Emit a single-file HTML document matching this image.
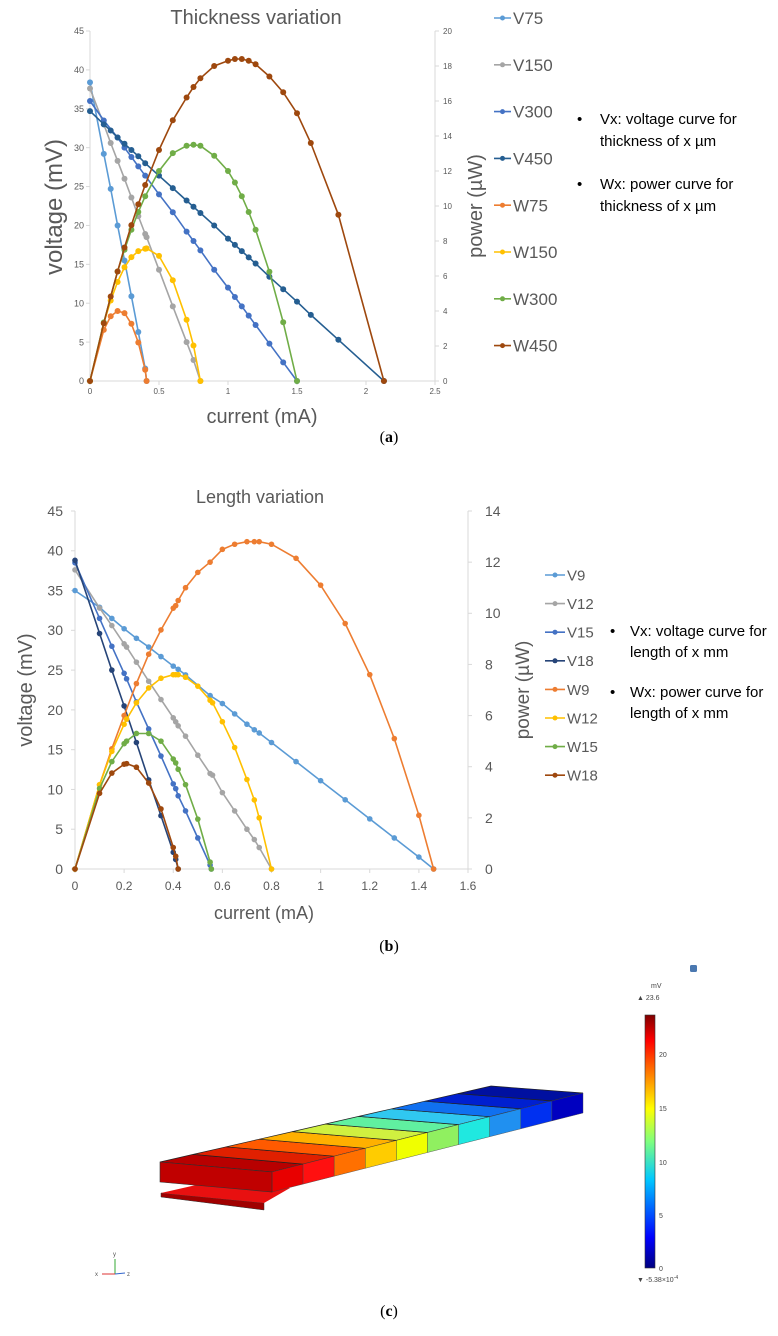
<!DOCTYPE html>
<html><head><meta charset="utf-8">
<style>
html,body{margin:0;padding:0;background:#fff;}
svg{display:block;font-family:"Liberation Sans",sans-serif;}
.cap{font-family:"Liberation Serif",serif;}
</style></head>
<body>
<svg id="fig" width="778" height="1336" viewBox="0 0 778 1336" xmlns="http://www.w3.org/2000/svg">
  <g id="chartA">
    <text x="256" y="24" text-anchor="middle" font-size="20" fill="#595959">Thickness variation</text>
    <text transform="translate(62,207) rotate(-90)" text-anchor="middle" font-size="24" fill="#595959">voltage (mV)</text>
    <text transform="translate(482,206) rotate(-90)" text-anchor="middle" font-size="20" fill="#595959">power (µW)</text>
    <text x="262" y="423" text-anchor="middle" font-size="20" fill="#595959">current (mA)</text>
    <g font-size="15" fill="#000">
      <text x="577" y="124">•</text><text x="600" y="124">Vx: voltage curve for</text>
      <text x="600" y="146">thickness of x µm</text>
      <text x="577" y="189">•</text><text x="600" y="189">Wx: power curve for</text>
      <text x="600" y="211">thickness of x µm</text>
    </g>
  </g>
  <text class="cap" x="389" y="442" text-anchor="middle" font-size="16">(<tspan font-weight="bold">a</tspan>)</text>

  <g id="chartB">
    <text x="260" y="503" text-anchor="middle" font-size="18" fill="#595959">Length variation</text>
    <text transform="translate(32,690) rotate(-90)" text-anchor="middle" font-size="20" fill="#595959">voltage (mV)</text>
    <text transform="translate(529,690) rotate(-90)" text-anchor="middle" font-size="19" fill="#595959">power (µW)</text>
    <text x="264" y="919" text-anchor="middle" font-size="18" fill="#595959">current (mA)</text>
    <g font-size="15" fill="#000">
      <text x="610" y="636">•</text><text x="630" y="636">Vx: voltage curve for</text>
      <text x="630" y="657">length of x mm</text>
      <text x="610" y="697">•</text><text x="630" y="697">Wx: power curve for</text>
      <text x="630" y="718">length of x mm</text>
    </g>
  </g>
  <text class="cap" x="389" y="951" text-anchor="middle" font-size="16">(<tspan font-weight="bold">b</tspan>)</text>

  <g id="partC"></g>
  <g>
    <defs>
      <linearGradient id="jet" x1="0" y1="1" x2="0" y2="0">
        <stop offset="0" stop-color="#00007f"/>
        <stop offset="0.12" stop-color="#0000ff"/>
        <stop offset="0.35" stop-color="#00c8ff"/>
        <stop offset="0.5" stop-color="#7fff7f"/>
        <stop offset="0.63" stop-color="#ffff00"/>
        <stop offset="0.8" stop-color="#ff6000"/>
        <stop offset="0.9" stop-color="#ff0000"/>
        <stop offset="1" stop-color="#7f0000"/>
      </linearGradient>
    </defs>
    <rect x="645" y="1015" width="10" height="253" fill="url(#jet)" stroke="#333" stroke-width="0.6"/>
    <g font-size="7" fill="#444">
      <text x="651" y="988">mV</text>
      <text x="637" y="1000">▲ 23.6</text>
      <text x="659" y="1057">20</text>
      <text x="659" y="1111">15</text>
      <text x="659" y="1165">10</text>
      <text x="659" y="1218">5</text>
      <text x="659" y="1271">0</text>
      <text x="637" y="1282">▼ -5.38×10<tspan dy="-3" font-size="5">-4</tspan></text>
    </g>
    <rect x="690" y="965" width="7" height="7" rx="1.5" fill="#4a78b0"/>
  </g>
  <g font-size="6" fill="#555">
    <line x1="115" y1="1274" x2="115" y2="1259" stroke="#3a3" stroke-width="1"/>
    <line x1="115" y1="1274" x2="102" y2="1274" stroke="#d33" stroke-width="1"/>
    <line x1="115" y1="1274" x2="125" y2="1273" stroke="#36c" stroke-width="1"/>
    <text x="113" y="1256">y</text><text x="95" y="1276">x</text><text x="127" y="1276">z</text>
  </g>
  <text class="cap" x="389" y="1316" text-anchor="middle" font-size="16">(<tspan font-weight="bold">c</tspan>)</text>
</svg>

<script>
const aLabels = ["V75","V150","V300","V450","W75","W150","W300","W450"];
const aColors = ["#5b9bd5","#a5a5a5","#4472c4","#255e91","#ed7d31","#ffc000","#70ad47","#9e480e"];
const aXTicks = [0,0.5,1,1.5,2,2.5];
const aXTickLabels = ["0","0.5","1","1.5","2","2.5"];
const aYTicks = [0,5,10,15,20,25,30,35,40,45];
const aY2Ticks = [0,2,4,6,8,10,12,14,16,18,20];
const aI75 = [0,0.1,0.15,0.2,0.25,0.3,0.35,0.4,0.41];
const aV75 = [38.4,29.2,24.7,20,15.5,10.9,6.3,1.6,0];
const aW75 = [0,2.92,3.7,4.0,3.88,3.27,2.2,0.64,0];
const aI150 = [0,0.1,0.15,0.2,0.25,0.3,0.35,0.4,0.41,0.5,0.6,0.7,0.75,0.8];
const aV150 = [37.6,33,30.6,28.3,26,23.6,21.2,18.9,18.5,14.3,9.6,5,2.7,0];
const aW150 = [0,3.3,4.6,5.66,6.5,7.08,7.42,7.56,7.58,7.15,5.76,3.5,2.03,0];
const aI300 = [0,0.1,0.2,0.25,0.3,0.35,0.4,0.5,0.6,0.7,0.75,0.8,0.9,1.0,1.05,1.1,1.15,1.2,1.3,1.4,1.5];
const aV300 = [36,33.5,31.3,30,28.8,27.6,26.4,24,21.7,19.2,18,16.8,14.3,12,10.8,9.6,8.4,7.2,4.8,2.4,0];
const aW300 = [0,3.35,6.26,7.5,8.64,9.66,10.56,12,13.02,13.44,13.5,13.44,12.87,12,11.34,10.56,9.66,8.64,6.24,3.36,0];
const aI450 = [0,0.1,0.15,0.2,0.25,0.3,0.35,0.4,0.5,0.6,0.7,0.75,0.8,0.9,1.0,1.05,1.1,1.15,1.2,1.3,1.4,1.5,1.6,1.8,2.13];
const aV450 = [34.7,33,32.2,31.3,30.5,29.7,28.9,28,26.4,24.8,23.2,22.4,21.6,20,18.3,17.5,16.7,15.9,15.1,13.4,11.8,10.2,8.5,5.3,0];
const aW450 = [0,3.3,4.83,6.26,7.63,8.91,10.1,11.2,13.2,14.9,16.2,16.8,17.3,18,18.3,18.4,18.4,18.3,18.1,17.4,16.5,15.3,13.6,9.5,0];

const bLabels = ["V9","V12","V15","V18","W9","W12","W15","W18"];
const bColors = ["#5b9bd5","#a5a5a5","#4472c4","#264478","#ed7d31","#ffc000","#70ad47","#9e480e"];
const bXTicks = [0,0.2,0.4,0.6,0.8,1,1.2,1.4,1.6];
const bXTickLabels = ["0","0.2","0.4","0.6","0.8","1","1.2","1.4","1.6"];
const bYTicks = [0,5,10,15,20,25,30,35,40,45];
const bY2Ticks = [0,2,4,6,8,10,12,14];
const bI9 = [0,0.1,0.15,0.2,0.25,0.3,0.35,0.4,0.42,0.45,0.55,0.6,0.65,0.7,0.73,0.75,0.8,0.9,1.0,1.1,1.2,1.3,1.4,1.46];
const bV9 = [35,32.9,31.5,30.2,29,27.9,26.7,25.5,25.1,24.4,21.8,20.8,19.5,18.2,17.5,17.1,15.9,13.5,11.1,8.7,6.3,3.9,1.5,0];
const bIW9 = [0,0.1,0.15,0.2,0.25,0.3,0.35,0.4,0.41,0.42,0.45,0.5,0.55,0.6,0.65,0.7,0.73,0.75,0.8,0.9,1.0,1.1,1.2,1.3,1.4,1.46];
const bW9 = [0,3.29,4.7,6.0,7.25,8.4,9.35,10.2,10.3,10.5,11.0,11.6,12.0,12.5,12.7,12.8,12.8,12.8,12.7,12.15,11.1,9.6,7.6,5.1,2.1,0];
const bI12 = [0,0.1,0.15,0.2,0.21,0.25,0.3,0.35,0.4,0.41,0.42,0.45,0.5,0.55,0.56,0.6,0.65,0.7,0.73,0.75,0.8];
const bV12 = [37.6,32.8,30.6,28.3,27.9,26,23.6,21.3,19,18.5,18,16.7,14.3,12,11.8,9.6,7.3,5,3.7,2.7,0];
const bW12 = [0,3.3,4.6,5.66,5.86,6.5,7.08,7.46,7.6,7.6,7.6,7.5,7.15,6.6,6.5,5.76,4.75,3.5,2.7,2.0,0];
const bI15 = [0,0.1,0.15,0.2,0.21,0.25,0.3,0.35,0.4,0.41,0.42,0.45,0.5,0.55,0.555];
const bV15 = [38.5,31.5,28,24.6,23.9,21,17.6,14.2,10.7,10.1,9.2,7.3,3.9,0.5,0];
const bW15 = [0,3.15,4.2,4.9,5.0,5.3,5.3,5.0,4.3,4.15,3.9,3.3,1.95,0.27,0];
const bI18 = [0,0.1,0.15,0.2,0.25,0.3,0.35,0.4,0.41,0.42];
const bV18 = [38.8,29.6,25,20.5,15.9,11.2,6.7,2.1,1.2,0];
const bIW18 = [0,0.1,0.15,0.2,0.21,0.25,0.3,0.35,0.4,0.41,0.42];
const bW18 = [0,2.96,3.75,4.1,4.12,3.98,3.36,2.35,0.84,0.5,0];

const NS = "http://www.w3.org/2000/svg";
function mk(tag, parent){ const e=document.createElementNS(NS,tag); parent.appendChild(e); return e; }

function drawChart(root, cfg){
  const X = v => cfg.x0 + (v - cfg.xmin)/(cfg.xmax-cfg.xmin)*(cfg.x1-cfg.x0);
  const Y = v => cfg.y0 - v/cfg.ymax*(cfg.y0-cfg.y1);
  const Y2 = v => cfg.y0 - v/cfg.y2max*(cfg.y0-cfg.y1);
  const ax = mk("g", root);
  
  
  ax.setAttribute("stroke","#d9d9d9"); ax.setAttribute("stroke-width","1");
  const lines = [[cfg.x0,cfg.y1,cfg.x0,cfg.y0],[cfg.x0,cfg.y0,cfg.x1,cfg.y0],[cfg.x1,cfg.y1,cfg.x1,cfg.y0]];
  lines.forEach(l=>{const e=mk("line",ax);e.setAttribute("x1",l[0]);e.setAttribute("y1",l[1]);e.setAttribute("x2",l[2]);e.setAttribute("y2",l[3]);});
  cfg.yTicks.forEach(t=>{
    const l=mk("line",ax); l.setAttribute("x1",cfg.x0-4); l.setAttribute("x2",cfg.x0); l.setAttribute("y1",Y(t)); l.setAttribute("y2",Y(t));
    const tx=mk("text",root);
    
    
    tx.setAttribute("x",cfg.x0-cfg.ylabOff); tx.setAttribute("y",Y(t)+cfg.yFont*0.35); tx.setAttribute("text-anchor","end");
    tx.setAttribute("font-size",cfg.yFont); tx.setAttribute("fill","#595959"); tx.textContent=t;
  });
  cfg.y2Ticks.forEach(t=>{
    const l=mk("line",ax); l.setAttribute("x1",cfg.x1); l.setAttribute("x2",cfg.x1+4); l.setAttribute("y1",Y2(t)); l.setAttribute("y2",Y2(t));
    const tx=mk("text",root);
    
    
    tx.setAttribute("x",cfg.x1+cfg.y2labOff); tx.setAttribute("y",Y2(t)+cfg.y2Font*0.35);
    tx.setAttribute("font-size",cfg.y2Font); tx.setAttribute("fill","#595959"); tx.textContent=t;
  });
  cfg.xTicks.forEach((t,i)=>{
    const l=mk("line",ax); l.setAttribute("x1",X(t)); l.setAttribute("x2",X(t)); l.setAttribute("y1",cfg.y0); l.setAttribute("y2",cfg.y0+4);
    const tx=mk("text",root);
    
    
    tx.setAttribute("x",X(t)); tx.setAttribute("y",cfg.y0+cfg.xlabOff); tx.setAttribute("text-anchor","middle");
    tx.setAttribute("font-size",cfg.xFont); tx.setAttribute("fill","#595959"); tx.textContent=cfg.xTickLabels[i];
  });
  cfg.series.forEach((s)=>{
    const g=mk("g",root);
    
    
    const ys = s.axis===2 ? Y2 : Y;
    const pts = s.xs.map((x,i)=>X(x).toFixed(1)+","+ys(s.ys[i]).toFixed(1)).join(" ");
    const pl=mk("polyline",g);
    
    
    pl.setAttribute("points",pts); pl.setAttribute("fill","none"); pl.setAttribute("stroke",s.color); pl.setAttribute("stroke-width","1.6");
    s.xs.forEach((x,i)=>{
      const c=mk("circle",g);
      
      
      c.setAttribute("cx",X(x)); c.setAttribute("cy",ys(s.ys[i])); c.setAttribute("r",cfg.r); c.setAttribute("fill",s.color);
    });
  });
  cfg.legendLabels.forEach((lab,i)=>{
    const g=mk("g",root);
    
    
    const y = cfg.legY + i*cfg.legDy;
    const l=mk("line",g); l.setAttribute("x1",cfg.legX); l.setAttribute("x2",cfg.legX+cfg.legW); l.setAttribute("y1",y); l.setAttribute("y2",y);
    l.setAttribute("stroke",cfg.legendColors[i]); l.setAttribute("stroke-width","1.6");
    const c=mk("circle",g); c.setAttribute("cx",cfg.legX+cfg.legW/2); c.setAttribute("cy",y); c.setAttribute("r",2.5); c.setAttribute("fill",cfg.legendColors[i]);
    const t=mk("text",g); t.setAttribute("x",cfg.legX+cfg.legW+2); t.setAttribute("y",y+cfg.legFont*0.36);
    t.setAttribute("font-size",cfg.legFont); t.setAttribute("fill","#595959"); t.textContent=lab;
  });
}

drawChart(document.getElementById("chartA"), {
  x0:90, x1:435, xmin:0, xmax:2.5, y0:381, y1:31, ymax:45, y2max:20, r:3,
  yTicks:aYTicks, y2Ticks:aY2Ticks, xTicks:aXTicks, xTickLabels:aXTickLabels,
  yFont:9, y2Font:8, xFont:8, ylabOff:6, y2labOff:8, xlabOff:13,
  legendLabels:aLabels, legendColors:aColors, legX:494, legW:17, legY:18, legDy:46.8, legFont:17,
  series:[
    {name:"V75",xs:aI75,ys:aV75,color:aColors[0],axis:1},
    {name:"V150",xs:aI150,ys:aV150,color:aColors[1],axis:1},
    {name:"V300",xs:aI300,ys:aV300,color:aColors[2],axis:1},
    {name:"V450",xs:aI450,ys:aV450,color:aColors[3],axis:1},
    {name:"W75",xs:aI75,ys:aW75,color:aColors[4],axis:2},
    {name:"W150",xs:aI150,ys:aW150,color:aColors[5],axis:2},
    {name:"W300",xs:aI300,ys:aW300,color:aColors[6],axis:2},
    {name:"W450",xs:aI450,ys:aW450,color:aColors[7],axis:2}
  ]
});

drawChart(document.getElementById("chartB"), {
  x0:75, x1:468, xmin:0, xmax:1.6, y0:869, y1:511, ymax:45, y2max:14, r:2.8,
  yTicks:bYTicks, y2Ticks:bY2Ticks, xTicks:bXTicks, xTickLabels:bXTickLabels,
  yFont:14, y2Font:14, xFont:12, ylabOff:12, y2labOff:17, xlabOff:21,
  legendLabels:bLabels, legendColors:bColors, legX:545, legW:20, legY:575, legDy:28.6, legFont:15,
  series:[
    {name:"V9",xs:bI9,ys:bV9,color:bColors[0],axis:1},
    {name:"V12",xs:bI12,ys:bV12,color:bColors[1],axis:1},
    {name:"V15",xs:bI15,ys:bV15,color:bColors[2],axis:1},
    {name:"V18",xs:bI18,ys:bV18,color:bColors[3],axis:1},
    {name:"W9",xs:bIW9,ys:bW9,color:bColors[4],axis:2},
    {name:"W12",xs:bI12,ys:bW12,color:bColors[5],axis:2},
    {name:"W15",xs:bI15,ys:bW15,color:bColors[6],axis:2},
    {name:"W18",xs:bIW18,ys:bW18,color:bColors[7],axis:2}
  ]
});

const slabTopColors = ["#b80000","#e02000","#ff5a00","#ffb000","#d0f040","#60f0a0","#30c8f0","#1070f0","#0020d0","#0010a0"];
const slabSideColors = ["#e80000","#ff1010","#ff7000","#ffcc00","#f0ff00","#90f060","#20e8e0","#2090f0","#0030f0","#0000c0"];
(function(){
  const g = document.getElementById("partC");
  const A=[160,1162], B=[491,1086], C=[583,1093], D=[272,1172];
  const th = 20;
  const lerp=(p,q,t)=>[p[0]+(q[0]-p[0])*t, p[1]+(q[1]-p[1])*t];
  const n = slabTopColors.length;
  const lp=mk("polygon",g);
  
  
  lp.setAttribute("points","161,1193 264,1203 264,1210 161,1197");
  lp.setAttribute("fill","#a00000"); lp.setAttribute("stroke","#333"); lp.setAttribute("stroke-width","0.5");
  const lp2=mk("polygon",g);
  
  
  lp2.setAttribute("points","161,1193 205,1183 290,1188 264,1203");
  lp2.setAttribute("fill","#e81010");
  for(let i=0;i<n;i++){
    const t0=i/n, t1=(i+1)/n;
    const p1=lerp(A,B,t0), p2=lerp(A,B,t1), p3=lerp(D,C,t1), p4=lerp(D,C,t0);
    const top=mk("polygon",g);
    
    
    top.setAttribute("points",[p1,p2,p3,p4].map(p=>p.join(",")).join(" "));
    top.setAttribute("fill",slabTopColors[i]); top.setAttribute("stroke","#222"); top.setAttribute("stroke-width","0.7");
    const side=mk("polygon",g);
    
    
    side.setAttribute("points",[p4,p3,[p3[0],p3[1]+th],[p4[0],p4[1]+th]].map(p=>p.join(",")).join(" "));
    side.setAttribute("fill",slabSideColors[i]); side.setAttribute("stroke","#444"); side.setAttribute("stroke-width","0.4");
  }
  const endf=mk("polygon",g);
  
  
  endf.setAttribute("points",[A,D,[D[0],D[1]+th],[A[0],A[1]+th]].map(p=>p.join(",")).join(" "));
  endf.setAttribute("fill","#c00000"); endf.setAttribute("stroke","#333"); endf.setAttribute("stroke-width","0.6");
})();
</script>
</body></html>
